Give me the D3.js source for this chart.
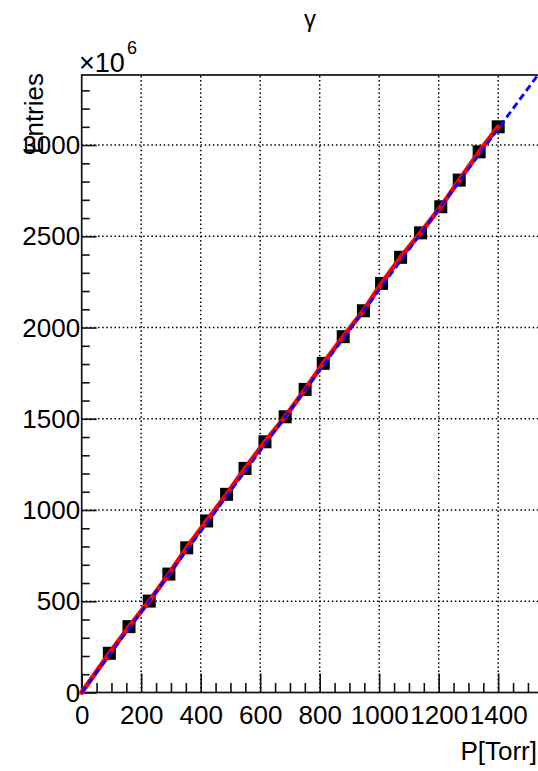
<!DOCTYPE html>
<html><head><meta charset="utf-8">
<script src="https://cdn.jsdelivr.net/npm/d3@7"></script>
<style>body{margin:0;background:#fff}svg{display:block}text{font-family:"Liberation Sans",Arial,sans-serif;fill:#000}</style>
</head><body><svg id="c" width="538" height="771"></svg>
<script>
// Data (pressure in Torr, entries in units of 1e6)
const pressure = [93,159,227,293,353,420,487,549,616,684,751,812,879,947,1008,1072,1139,1207,1269,1336,1400];
const entries  = [215,361,501,649,793,940,1086,1228,1374,1511,1661,1804,1950,2092,2242,2385,2519,2662,2808,2963,3100];
const blueFitSlope = 2.207; // fitted line, entries per Torr
const xMajorTicks = [0,200,400,600,800,1000,1200,1400];
const yMajorTicks = [0,500,1000,1500,2000,2500,3000];
const xDomain = [0,1540];
const yDomain = [0,3384];

const svg = d3.select("#c");
svg.append("rect").attr("width",538).attr("height",771).attr("fill","#fff");
const x = d3.scaleLinear().domain(xDomain).range([81.7, 81.7+0.2975*xDomain[1]]);
const y = d3.scaleLinear().domain(yDomain).range([692.5, 75]);
const X0=x(0), X1=x(xDomain[1]), Y0=y(0), Y1=y(yDomain[1]);

// grid
const g = svg.append("g");
g.selectAll("line.vg").data(xMajorTicks.filter(d=>d>0)).join("line")
 .attr("x1",d=>x(d)).attr("x2",d=>x(d)).attr("y1",Y0).attr("y2",Y1)
 .attr("stroke","#000").attr("stroke-width",1.5).attr("stroke-dasharray","1.5,2.6");
g.selectAll("line.hg").data(yMajorTicks.filter(d=>d>0)).join("line")
 .attr("y1",d=>y(d)).attr("y2",d=>y(d)).attr("x1",X0).attr("x2",X1)
 .attr("stroke","#000").attr("stroke-width",1.5).attr("stroke-dasharray","1.5,2.6");

// axes (ticks drawn inward)
const xMinor = d3.range(0, xDomain[1]+1, 50).filter(d=>!xMajorTicks.includes(d));
const yMinor = d3.range(0, yDomain[1]+1, 100).filter(d=>!yMajorTicks.includes(d));
const xAxis = d3.axisBottom(x).tickValues(xMajorTicks).tickSize(-19).tickPadding(10).tickFormat(d3.format("d"));
const xAxisMinor = d3.axisBottom(x).tickValues(xMinor).tickSize(-9.5).tickFormat("");
const yAxis = d3.axisLeft(y).tickValues(yMajorTicks).tickSize(-15).tickPadding(2).tickFormat(d3.format("d"));
const yAxisMinor = d3.axisLeft(y).tickValues(yMinor).tickSize(-8).tickFormat("");

function styleAxis(sel){
  sel.select(".domain").remove();
  sel.selectAll("line").attr("stroke","#111").attr("stroke-width",1.6);
  sel.selectAll("text").attr("font-size",26).attr("fill","#111");
}
svg.append("g").attr("transform",`translate(0,${Y0})`).call(xAxisMinor).call(styleAxis);
const gx = svg.append("g").attr("transform",`translate(0,${Y0})`).call(xAxis).call(styleAxis);
gx.selectAll("text").attr("dy",null).attr("y",31).attr("dominant-baseline","auto");
svg.append("g").attr("transform",`translate(${X0},0)`).call(yAxisMinor).call(styleAxis);
const gy = svg.append("g").attr("transform",`translate(${X0},0)`).call(yAxis).call(styleAxis);
gy.selectAll("text").attr("dy","0.33em").attr("x",-1.5);

// frame
svg.append("rect").attr("x",X0).attr("y",Y1).attr("width",X1-X0).attr("height",Y0-Y1)
 .attr("fill","none").attr("stroke","#111").attr("stroke-width",1.7);

// data markers
svg.append("g").selectAll("rect").data(pressure).join("rect")
 .attr("x",(d)=>x(d)-6.5).attr("y",(d,i)=>y(entries[i])-6.5).attr("width",13).attr("height",13).attr("fill","#000");

// red curve through the points
const redPts = [[0,0]].concat(pressure.map((p,i)=>[p,entries[i]]));
svg.append("path").datum(redPts)
 .attr("d", d3.line().x(d=>x(d[0])).y(d=>y(d[1])))
 .attr("fill","none").attr("stroke","#f00").attr("stroke-width",4.8).attr("stroke-linecap","round").attr("stroke-linejoin","round");

// blue dashed fit line
const blueX = [0, Math.min(xDomain[1], yDomain[1]/blueFitSlope)];
svg.append("path").datum(blueX)
 .attr("d", d3.line().x(d=>x(d)).y(d=>y(d*blueFitSlope)))
 .attr("fill","none").attr("stroke","#00f").attr("stroke-width",2.8).attr("stroke-dasharray","7,4");

// titles
svg.append("text").attr("x",310).attr("y",27).attr("text-anchor","middle").attr("font-size",24).text("γ");
svg.append("text").attr("x",79).attr("y",72).attr("font-size",27).attr("fill","#222").text("×10");
svg.append("text").attr("x",127).attr("y",54).attr("font-size",18).attr("fill","#222").text("6");
svg.append("text").attr("transform","translate(43,73) rotate(-90)").attr("text-anchor","end").attr("font-size",26).attr("fill","#222").text("Entries");
svg.append("text").attr("x",537).attr("y",760).attr("text-anchor","end").attr("font-size",26).attr("fill","#222").text("P[Torr]");
</script></body></html>
